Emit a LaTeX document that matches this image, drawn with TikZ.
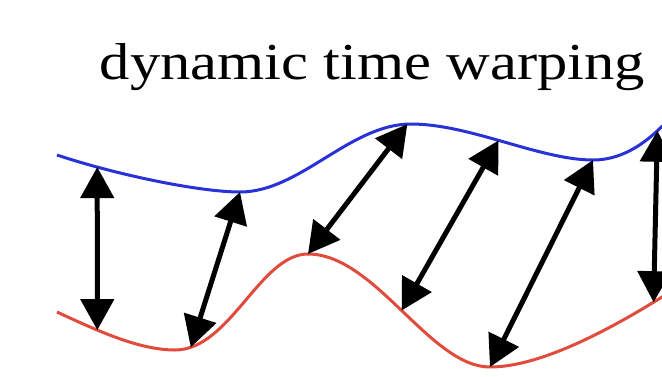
\documentclass[tikz,border=0pt]{standalone}
\usepackage{fontspec}
\setmainfont{Liberation Serif}
\usetikzlibrary{arrows.meta}
\definecolor{curveblue}{RGB}{40,50,215}
\definecolor{curvered}{RGB}{225,75,60}
\tikzset{
  series/.style={line width=3pt},
  link/.style={line width=5pt, {Triangle[length=31pt,width=33pt]}-{Triangle[length=31pt,width=33pt]}},
}
\begin{document}
\begin{tikzpicture}[x=1pt,y=-1pt]
\useasboundingbox (0,0) rectangle (662,376);
\node[anchor=base, inner sep=0pt] (title) at (372.5,79) {\resizebox{545pt}{36pt}{dynamic time warping}};
\draw[curveblue, series] (57,155)
  .. controls (117,175) and (200,192) .. coordinate[pos=0.21] (b1) (240,192) coordinate (b2)
  .. controls (300,192) and (350,124) .. coordinate[pos=0.98] (b3) (411,124)
  .. controls (470,124) and (540,160) .. coordinate[pos=0.47] (b4) (593,160) coordinate (b5)
  .. controls (625,160) and (650,140) .. coordinate[pos=0.8] (b6) (670,118);
\draw[curvered, series] (57,312)
  .. controls (100,332) and (140,350) .. coordinate[pos=0.32] (r1) (175,350)
  .. controls (230,350) and (260,254) .. coordinate[pos=0.1] (r2) (308,254) coordinate (r3)
  .. controls (375,254) and (430,367) .. coordinate[pos=0.5] (r4) (490,367) coordinate (r5)
  .. controls (540,367) and (610,330) .. coordinate[pos=0.91] (r6) (670,292);
\draw[link] (b1) -- (r1);
\draw[link] (b2) -- (r2);
\draw[link] (b3) -- (r3);
\draw[link] (b4) -- (r4);
\draw[link] (b5) -- (r5);
\draw[link] (b6) -- (r6);
\end{tikzpicture}
\end{document}
